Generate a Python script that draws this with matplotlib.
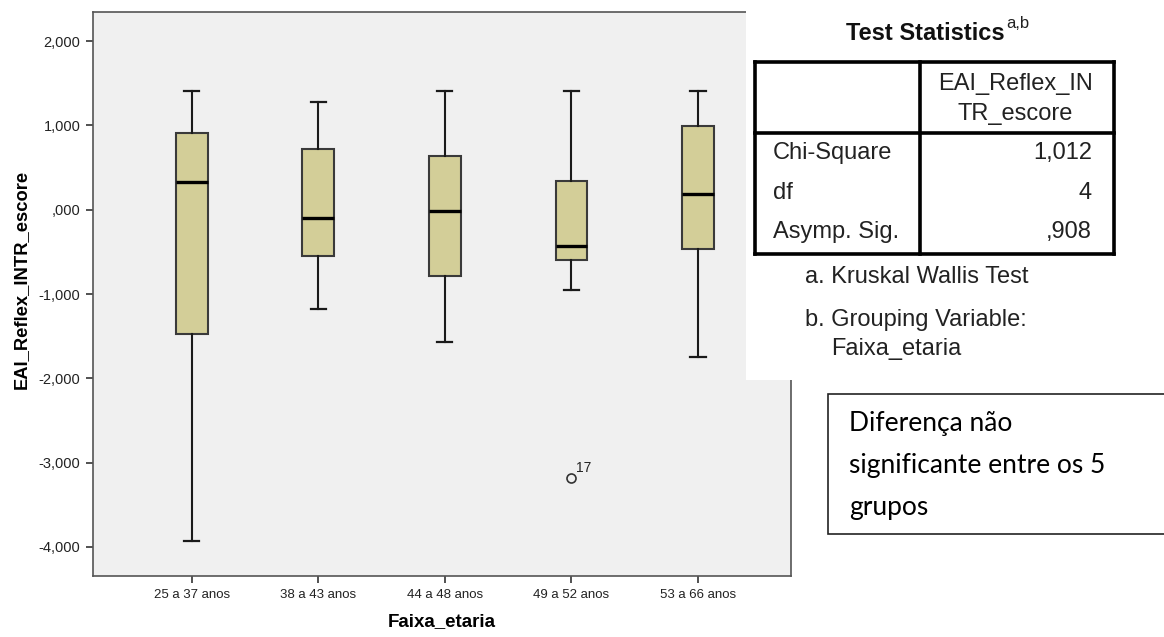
import matplotlib
matplotlib.use("Agg")
import matplotlib.pyplot as plt
from matplotlib.patches import Rectangle

# ---- data ----
categories = ["25 a 37 anos", "38 a 43 anos", "44 a 48 anos", "49 a 52 anos", "53 a 66 anos"]
whisker_low = [-3.93, -1.18, -1.57, -0.95, -1.75]
q1 = [-1.47, -0.55, -0.79, -0.60, -0.47]
median = [0.33, -0.10, -0.02, -0.43, 0.19]
q3 = [0.91, 0.72, 0.64, 0.34, 0.99]
whisker_high = [1.41, 1.28, 1.41, 1.41, 1.41]
outliers = [[], [], [], [-3.18], []]
outlier_ids = [[], [], [], ["17"], []]
yticks = [2, 1, 0, -1, -2, -3, -4]
ytick_labels = ["2,000", "1,000", ",000", "-1,000", "-2,000", "-3,000", "-4,000"]

stat_rows = ["Chi-Square", "df", "Asymp. Sig."]
stat_vals = ["1,012", "4", ",908"]

W, H = 1164, 637
fig = plt.figure(figsize=(W / 100, H / 100), dpi=100)
fig.patch.set_facecolor("white")
font = ["Liberation Sans", "DejaVu Sans"]

ax = fig.add_axes([93 / W, 1 - 576 / H, (791 - 93) / W, (576 - 12) / H])
ax.set_facecolor("#f0f0f0")

stats = []
for i in range(len(categories)):
    stats.append(dict(med=median[i], q1=q1[i], q3=q3[i], whislo=whisker_low[i],
                      whishi=whisker_high[i], fliers=outliers[i], label=categories[i]))
positions = list(range(len(categories)))
ax.bxp(stats, positions=positions, widths=0.25, patch_artist=True, showfliers=True,
       boxprops=dict(facecolor="#d3ce98", edgecolor="#3a3a3a", linewidth=1.5),
       medianprops=dict(color="black", linewidth=2.4, solid_capstyle="butt"),
       whiskerprops=dict(color="#1a1a1a", linewidth=1.5),
       capprops=dict(color="#1a1a1a", linewidth=1.6),
       capwidths=0.12,
       flierprops=dict(marker="o", markersize=6.5, markerfacecolor="none",
                       markeredgecolor="#333333", markeredgewidth=1.2))
for i, (vals, ids) in enumerate(zip(outliers, outlier_ids)):
    for v, t in zip(vals, ids):
        ax.annotate(t, (i, v), xytext=(3, 4), textcoords="offset points",
                    fontsize=10, family=font, color="#222222")

ax.set_xlim(-0.78, 4.735)
ax.set_ylim(-4.344, 2.344)
ax.set_yticks(yticks)
ax.set_yticklabels(ytick_labels, family=font, fontsize=10.5, color="#222222")
ax.set_xticks(positions)
ax.set_xticklabels(categories, family=font, fontsize=9.5, color="#222222")
ax.tick_params(axis="both", direction="out", length=5, width=1.2, color="#333333", pad=4)
for s in ax.spines.values():
    s.set_color("#555555")
    s.set_linewidth(1.2)
ax.set_ylabel("EAI_Reflex_INTR_escore", family=font, fontsize=13.2, fontweight="bold")
ax.yaxis.set_label_coords(-0.09, 0.525)
ax.set_xlabel("Faixa_etaria", family=font, fontsize=13.5, fontweight="bold", labelpad=9)

# ---- overlay in pixel coordinates ----
ov = fig.add_axes([0, 0, 1, 1], zorder=5)
ov.set_xlim(0, W)
ov.set_ylim(H, 0)
ov.axis("off")
ov.patch.set_alpha(0)

ov.add_patch(Rectangle((746, 0), W - 746, 380, facecolor="white", edgecolor="none"))

ov.text(1005, 33, "Test Statistics", ha="right", va="center",
        family=font, fontsize=17, fontweight="bold", color="#111111")
ov.text(1006, 24, "a,b", ha="left", va="center",
        family=font, fontsize=12, color="#222222")

lw = 2.6
x0, x1, xm = 755, 1114, 920
y0, y1, ym = 62, 254, 133
for (xa, ya, xb, yb) in [(x0, y0, x1, y0), (x0, y1, x1, y1), (x0, y0, x0, y1),
                         (x1, y0, x1, y1), (xm, y0, xm, y1), (x0, ym, x1, ym)]:
    ov.plot([xa, xb], [ya, yb], color="black", linewidth=lw, solid_capstyle="projecting")

tkw = dict(family=font, fontsize=17, color="#222222", va="center")
ov.text(1015, 84, "EAI_Reflex_IN", ha="center", **tkw)
ov.text(1015, 114, "TR_escore", ha="center", **tkw)
row_y = [153, 193, 232]
for yy, lab, val in zip(row_y, stat_rows, stat_vals):
    ov.text(773, yy, lab, ha="left", **tkw)
    ov.text(1092, yy, val, ha="right", **tkw)
ov.text(805, 277, "a. Kruskal Wallis Test", ha="left", **tkw)
ov.text(805, 320, "b. Grouping Variable:", ha="left", **tkw)
ov.text(831, 349, "Faixa_etaria", ha="left", **tkw)

# note box
ov.add_patch(Rectangle((828, 394), 400, 140, facecolor="white", edgecolor="#222222", linewidth=1.2))
nkw = dict(family=["Lato", "DejaVu Sans"], fontsize=19, color="black", va="center", ha="left")
ov.text(849, 424, "Diferença não", **nkw)
ov.text(849, 465, "significante entre os 5", **nkw)
ov.text(849, 507, "grupos", **nkw)

fig.savefig("out.png", dpi=100)
